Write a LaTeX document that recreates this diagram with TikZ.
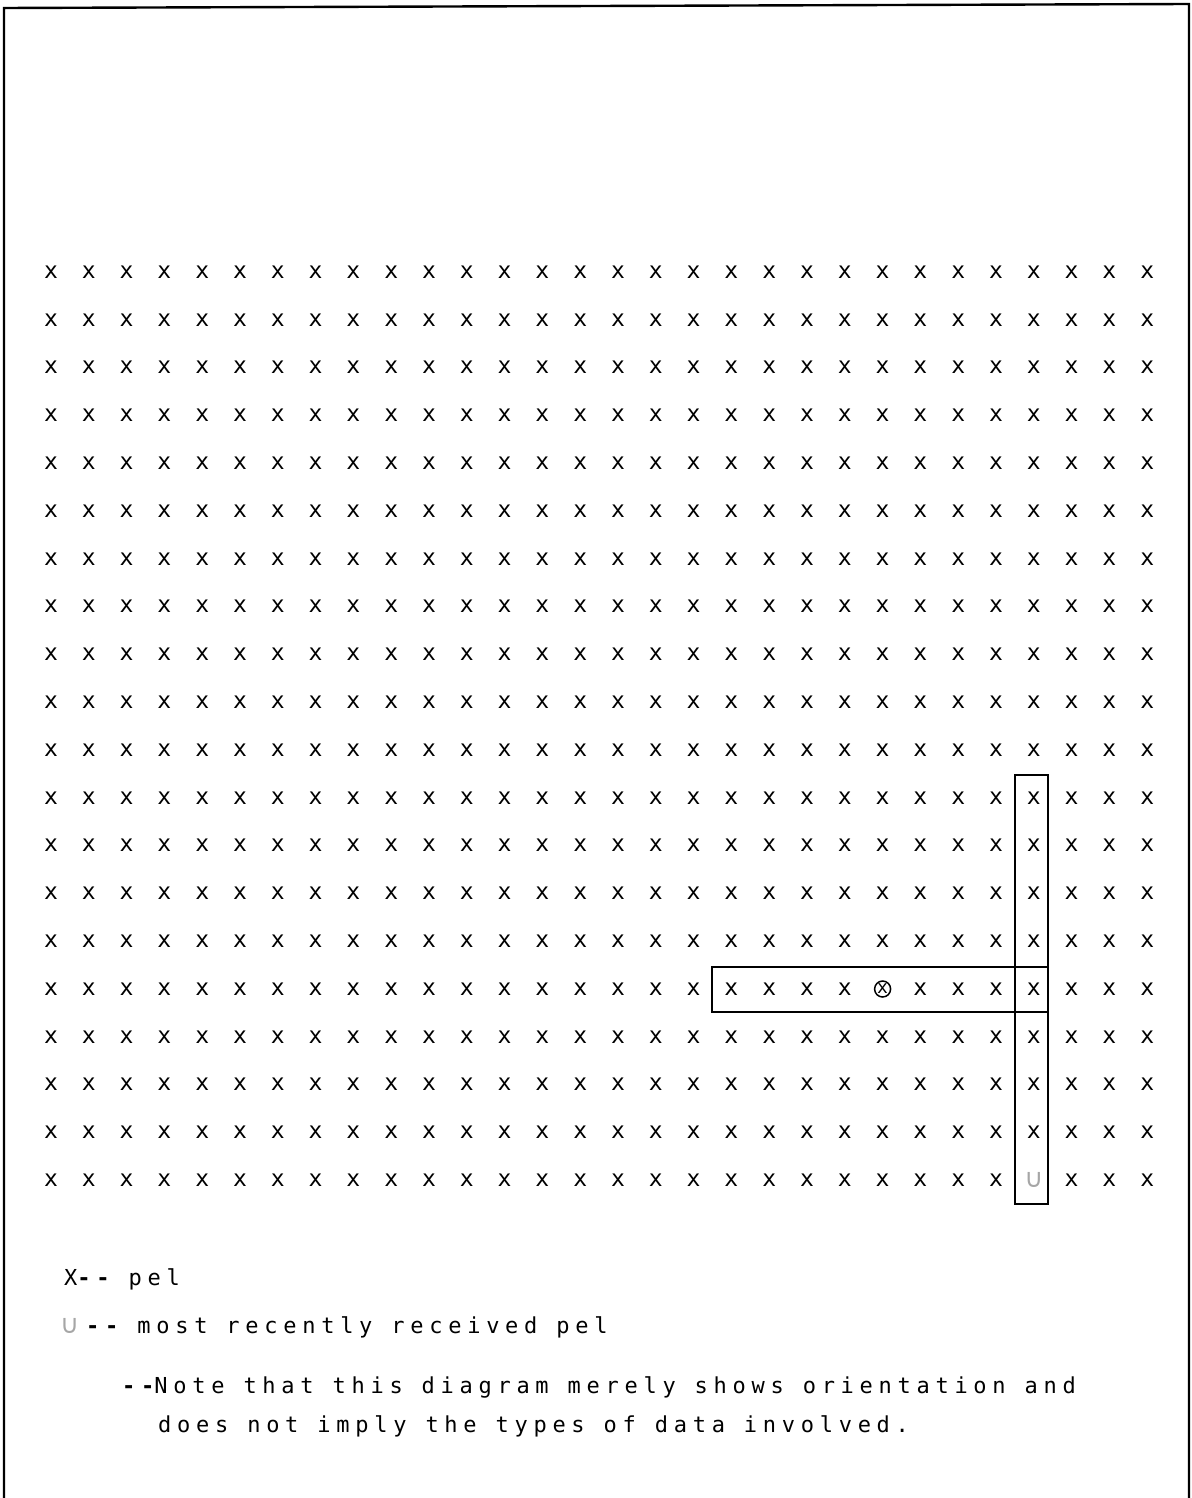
\documentclass[tikz,border=0pt]{standalone}
\usepackage{fontspec}
\newfontfamily\twfont{DejaVu Sans Mono}[LetterSpace=26]
\newfontfamily\gridfont{DejaVu Sans Mono}
\newfontfamily\symfont{DejaVu Sans}
\begin{document}
\begin{tikzpicture}[x=1pt,y=-1pt,
  pel/.style={inner sep=0pt,font=\gridfont\fontsize{23}{26}\selectfont},
  circledpel/.style={inner sep=0pt,font=\gridfont\fontsize{18}{20}\selectfont,circle,draw,line width=1.5pt,minimum size=16pt},
  recent/.style={inner sep=0pt,text=black!35,font=\symfont\fontsize{26}{28}\selectfont},
  frame/.style={line width=2.4pt},
  boxline/.style={line width=2.6pt},
  legend/.style={anchor=base west,inner sep=0pt,font=\twfont\fontsize{22}{26}\selectfont}]
\useasboundingbox (0,0) rectangle (1191,1498);
% page frame (open at the bottom)
\draw[frame] (4,1498) -- (4,8) -- (1189,4) -- (1189,1498);
% grid of pels
\foreach \r in {1,...,20}{
  \foreach \c in {1,...,30}{
    \pgfmathtruncatemacro\kind{(\r==20 && \c==27) ? 2 : ((\r==16 && \c==23) ? 1 : 0)}
    \ifcase\kind
      \node[pel] (p-\r-\c) at ({51+(\c-1)*37.8},{272+(\r-1)*47.8}) {x};
    \or
      \node[circledpel] (p-\r-\c) at ({51+(\c-1)*37.8},{272+(\r-1)*47.8}) {x};
    \or
      \node[recent] (p-\r-\c) at ({51+(\c-1)*37.8},{272+(\r-1)*47.8}) {∪};
    \fi
  }
}
% boxes
\draw[boxline] (1015,775) rectangle (1048,1204);
\draw[boxline] (712,967) rectangle (1048,1012);
% legend
\node[legend] (l1) at (64,1285) {X{\bfseries --} pel};
\node[recent,anchor=base west] (l2s) at (60,1333) {∪};
\node[legend] (l2) at (86,1333) {{\bfseries --} most recently received pel};
\node[legend] (l3) at (122,1393) {{\bfseries --}Note that this diagram merely shows orientation and};
\node[legend] (l4) at (158,1432) {does not imply the types of data involved.};
\end{tikzpicture}
\end{document}
